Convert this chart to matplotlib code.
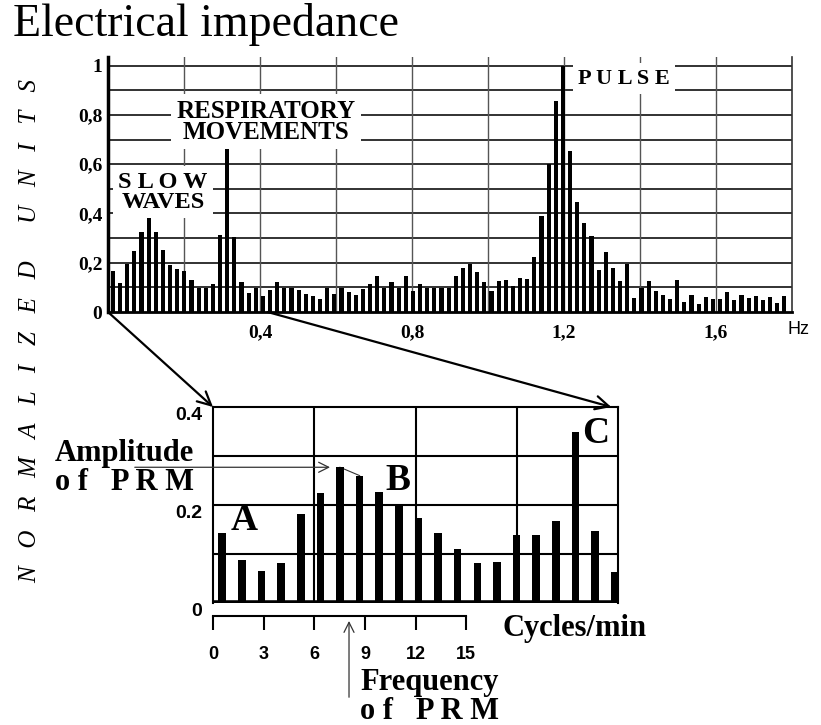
import numpy as np
import matplotlib.pyplot as plt
from matplotlib.patches import ConnectionPatch

# power spectrum of the impedance signal, 0 - 1.8 Hz
spectrum = [0.165, 0.117, 0.193, 0.247, 0.325, 0.38, 0.325, 0.251, 0.189, 0.175,
            0.165, 0.131, 0.097, 0.097, 0.115, 0.311, 0.69, 0.306, 0.12, 0.079,
            0.097, 0.066, 0.09, 0.12, 0.097, 0.097, 0.09, 0.072, 0.063, 0.052,
            0.097, 0.072, 0.097, 0.08, 0.07, 0.095, 0.115, 0.145, 0.097, 0.12,
            0.097, 0.145, 0.085, 0.115, 0.097, 0.097, 0.097, 0.097, 0.147, 0.178,
            0.195, 0.163, 0.12, 0.085, 0.125, 0.13, 0.107, 0.14, 0.135, 0.225,
            0.39, 0.6, 0.855, 1.0, 0.653, 0.445, 0.362, 0.31, 0.172, 0.243,
            0.179, 0.127, 0.195, 0.056, 0.097, 0.127, 0.086, 0.067, 0.051, 0.128,
            0.041, 0.07, 0.033, 0.062, 0.051, 0.051, 0.08, 0.05, 0.07, 0.057,
            0.063, 0.05, 0.06, 0.036, 0.063]
freq_hz = np.linspace(0.013, 1.78, len(spectrum))

top_xticks = [0.4, 0.8, 1.2, 1.6]
top_xlabels = ["0,4", "0,8", "1,2", "1,6"]
top_yticks = [0, 0.2, 0.4, 0.6, 0.8, 1]
top_ylabels = ["0", "0,2", "0,4", "0,6", "0,8", "1"]

# zoomed part 0 - 0.4 Hz in cycles/min
cycles_min = np.linspace(0.55, 23.8, 21)
zoom_vals = [0.143, 0.088, 0.065, 0.082, 0.182, 0.224, 0.277, 0.26, 0.227, 0.202,
             0.174, 0.142, 0.11, 0.081, 0.084, 0.138, 0.138, 0.167, 0.35, 0.146, 0.063]
bottom_xticks = [0, 3, 6, 9, 12, 15]
bottom_yticks = [0, 0.2, 0.4]
bottom_ylabels = ["0", "0.2", "0.4"]
prm_freq = 8.06

serif = "Liberation Serif"
sans = "Liberation Sans"

W, H = 821, 725
fig = plt.figure(figsize=(W / 100, H / 100), dpi=100)


def box(l, t, r, b):
    return [l / W, 1 - b / H, (r - l) / W, (b - t) / H]


# ---- top spectrum ----
ax = fig.add_axes(box(108, 57, 792, 312))
ax.set_xlim(0, 1.8)
ax.set_ylim(0, 1.035)
for v in np.arange(0.1, 1.01, 0.1):
    ax.axhline(v, color="#222222", lw=1.3, zorder=1)
for x in np.arange(0.2, 1.61, 0.2):
    ax.axvline(x, color="#555555", lw=1.0, zorder=1)
ax.bar(freq_hz, spectrum, width=0.011, color="black", zorder=2)
ax.spines["top"].set_visible(False)
ax.spines["left"].set_linewidth(2.5)
ax.spines["right"].set_linewidth(1.2)
ax.spines["right"].set_color("#333333")
ax.spines["bottom"].set_linewidth(2)
ax.tick_params(length=0)
ax.tick_params(axis="x", pad=9)
ax.tick_params(axis="y", pad=4)
ax.set_xticks(top_xticks, top_xlabels, fontfamily=serif, fontweight="bold", fontsize=14)
ax.set_yticks(top_yticks, top_ylabels, fontfamily=serif, fontweight="bold", fontsize=14)
ax.text(1.816, -0.073, "Hz", fontfamily=sans, fontsize=13, ha="center", va="center")

lbl = dict(fontfamily=serif, fontweight="bold", ha="center", va="center", zorder=5,
           bbox=dict(facecolor="white", edgecolor="none", pad=4))
ax.text(0.416, 0.772, "RESPIRATORY\nMOVEMENTS", fontsize=18, linespacing=0.9, **lbl)
ax.text(0.145, 0.486, "S L O W\nWAVES", fontsize=17.5, linespacing=0.95, **lbl)
ax.text(1.358, 0.947, "P U L S E", fontsize=16, **lbl)

# ---- zoomed spectrum ----
ax2 = fig.add_axes(box(213, 407, 618, 603))
ax2.set_xlim(0, 24)
ax2.set_ylim(0, 0.4)
for v in [0.1, 0.2, 0.3]:
    ax2.axhline(v, color="black", lw=1.5, zorder=1)
for x in [6, 12, 18]:
    ax2.axvline(x, color="black", lw=1.5, zorder=1)
ax2.bar(cycles_min, zoom_vals, width=0.45, color="black", zorder=3)
ax2.axhline(0, color="black", lw=4, zorder=4)
for s in ["left", "top", "right"]:
    ax2.spines[s].set_linewidth(1.5)
ax2.spines["bottom"].set_position(("outward", 9))
ax2.spines["bottom"].set_bounds(0, 15)
ax2.spines["bottom"].set_linewidth(1.5)
ax2.set_xticks(bottom_xticks, [str(t) for t in bottom_xticks],
               fontfamily=sans, fontweight="bold", fontsize=13)
ax2.tick_params(axis="x", direction="out", length=10, width=1.5, pad=12)
ax2.set_yticks([])
for v, t in zip(bottom_yticks, bottom_ylabels):
    ax2.text(-0.65, v - 0.017, t, fontfamily=sans, fontweight="bold", fontsize=14,
             ha="right", va="center")

big = dict(fontfamily=serif, fontweight="bold", ha="center", va="center")
ax2.text(1.84, 0.169, "A", fontsize=27, **big)
ax2.text(10.96, 0.251, "B", fontsize=27, **big)
ax2.text(22.7, 0.345, "C", fontsize=27, **big)

txt = dict(fontfamily=serif, fontweight="bold", ha="left", va="center", fontsize=22,
           linespacing=1.0)
ax2.text(-9.36, 0.2755, "Amplitude\no f   P R M", **txt)
ax2.text(8.71, -0.192, "Frequency\no f   P R M", **txt)
ax2.text(17.13, -0.053, "Cycles/min", **txt)

thin = dict(arrowstyle="->", lw=0.9, color="#333333", mutation_scale=18)
ax2.annotate("", xy=(7.1, zoom_vals[6]), xytext=(-4.8, zoom_vals[6]),
             arrowprops=thin, annotation_clip=False)
ax2.plot(cycles_min[6:8], zoom_vals[6:8], color="#333333", lw=0.8, zorder=2)
ax2.annotate("", xy=(prm_freq, -0.031), xytext=(prm_freq, -0.198),
             arrowprops=thin, annotation_clip=False)

# zoom connectors
for xa, xb in [(0, 0), (0.42, 23.6)]:
    con = ConnectionPatch(xyA=(xa, 0), coordsA=ax.transData, xyB=(xb, 0.4),
                          coordsB=ax2.transData, arrowstyle="->", lw=1.6,
                          mutation_scale=24, color="black")
    fig.add_artist(con)

fig.text(13 / W, 1 - 25 / H, "Electrical impedance", fontfamily=serif, fontsize=33,
         ha="left", va="center")
fig.text(30 / W, 1 - 331 / H,
         "N   O   R   M   A   L   I   Z   E   D      U   N   I   T   S",
         fontfamily=serif, fontstyle="italic", fontsize=18, rotation=90,
         ha="center", va="center")

fig.savefig("out.png", dpi=100)
